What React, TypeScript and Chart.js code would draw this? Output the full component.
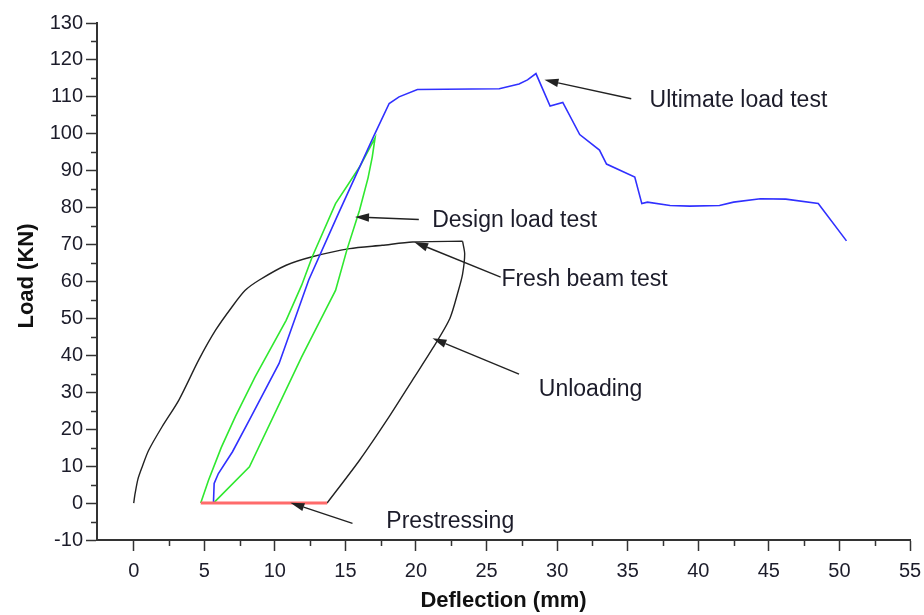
import React, { useEffect, useRef } from "react";
import { Chart, registerables } from "chart.js";

Chart.register(...registerables);

// Fresh beam test: first loading up to the peak plateau
const freshBeamDeflection = [0, 0.1, 0.3, 0.6, 1.06, 2.0, 3.2, 4.6, 5.8, 6.96, 7.9, 8.9, 10.8, 12.65, 15.3, 17.6, 19.75, 23.3];
const freshBeamLoad = [0, 2.6, 6.5, 9.8, 14.3, 20.6, 27.9, 38.7, 46.8, 53.1, 57.6, 60.4, 64.4, 66.7, 68.9, 69.8, 70.7, 70.9];

// Unloading of the fresh beam back to zero load
const unloadingDeflection = [23.3, 23.45, 23.3, 23.0, 22.4, 21.2, 19.75, 18.1, 16.0, 13.7];
const unloadingLoad = [70.9, 67.5, 62.0, 57.5, 50.0, 42.0, 33.3, 23.4, 11.6, 0];

// Prestressing at zero load
const prestressDeflection = [13.7, 4.75];
const prestressLoad = [0, 0];

// Design load test: loading and unloading loop
const designDeflection = [4.75, 5.3, 6.2, 7.2, 8.6, 10.8, 11.9, 12.65, 14.3, 16.0, 17.1, 16.9, 16.6, 16.0, 15.1, 14.3, 13.1, 11.9, 8.2, 5.65];
const designLoad = [0, 6.2, 15.0, 23.4, 34.2, 49.5, 59.0, 66.7, 81.1, 91.0, 98.9, 93.7, 88.0, 79.3, 68.5, 57.6, 48.6, 39.6, 9.8, 0];

// Ultimate load test up to failure
const ultimateDeflection = [5.65, 5.7, 6.0, 7.0, 8.2, 10.3, 12.4, 14.5, 17.0, 18.1, 18.8, 20.1, 25.9, 27.3, 27.9, 28.5, 29.5, 30.4, 31.6, 33.0, 33.5, 35.5, 36.0, 36.4, 38.0, 39.4, 41.5, 42.5, 44.4, 46.2, 48.5, 50.5];
const ultimateLoad = [0, 5.3, 8.0, 13.9, 22.5, 37.8, 60.4, 78.4, 99.3, 108.2, 110.0, 112.0, 112.2, 113.5, 114.6, 116.3, 107.5, 108.5, 99.8, 95.6, 91.8, 88.3, 81.1, 81.5, 80.6, 80.4, 80.6, 81.5, 82.4, 82.3, 81.1, 71.0];

// Axis ticks
const xMajorTicks = [0, 5, 10, 15, 20, 25, 30, 35, 40, 45, 50, 55];
const xMinorTicks = [2.5, 7.5, 12.5, 17.5, 22.5, 27.5, 32.5, 37.5, 42.5, 47.5, 52.5];
const yMajorTicks = [-10, 0, 10, 20, 30, 40, 50, 60, 70, 80, 90, 100, 110, 120, 130];
const yMinorTicks = [-5, 5, 15, 25, 35, 45, 55, 65, 75, 85, 95, 105, 115, 125];

// Callout labels, anchored in data units (deflection, load)
const calloutLabels = ["Ultimate load test", "Design load test", "Fresh beam test", "Unloading", "Prestressing"];
const calloutTipX = [29.1, 15.68, 19.87, 21.17, 11.1];
const calloutTipY = [114.6, 77.5, 70.7, 44.6, 0.1];
const calloutTailX = [35.25, 20.2, 26.0, 27.3, 15.5];
const calloutTailY = [109.5, 76.8, 61.2, 34.9, -5.5];
const calloutTextX = [36.55, 21.15, 26.05, 28.7, 17.9];
const calloutTextY = [109.0, 76.6, 60.4, 30.6, -5.1];

const xTitle = "Deflection (mm)";
const yTitle = "Load (KN)";

const FONT = "'Liberation Sans', Arial, Helvetica, sans-serif";
const AXIS_COLOR = "#333333";
const TEXT_COLOR = "#1c1c2a";

const pts = (xs: number[], ys: number[]) => xs.map((x, i) => ({ x, y: ys[i] }));

const decorations = {
  id: "decorations",
  afterDraw(chart: any) {
    const { ctx, chartArea } = chart;
    const xs = chart.scales.x;
    const ys = chart.scales.y;
    ctx.save();

    // minor tick marks
    ctx.strokeStyle = AXIS_COLOR;
    ctx.lineWidth = 1.5;
    ctx.beginPath();
    xMinorTicks.forEach((v) => {
      const px = Math.round(xs.getPixelForValue(v)) + 0.5;
      ctx.moveTo(px, chartArea.bottom);
      ctx.lineTo(px, chartArea.bottom + 6);
    });
    yMinorTicks.forEach((v) => {
      const py = Math.round(ys.getPixelForValue(v)) + 0.5;
      ctx.moveTo(chartArea.left - 6, py);
      ctx.lineTo(chartArea.left, py);
    });
    ctx.stroke();

    // callout arrows and labels
    ctx.fillStyle = "#222222";
    ctx.strokeStyle = "#222222";
    ctx.lineWidth = 1.4;
    calloutLabels.forEach((label, i) => {
      const tx = xs.getPixelForValue(calloutTipX[i]);
      const ty = ys.getPixelForValue(calloutTipY[i]);
      const sx = xs.getPixelForValue(calloutTailX[i]);
      const sy = ys.getPixelForValue(calloutTailY[i]);
      const ang = Math.atan2(ty - sy, tx - sx);
      const headLen = 14;
      const headHalf = 4.2;
      const bx = tx - headLen * Math.cos(ang);
      const by = ty - headLen * Math.sin(ang);
      ctx.beginPath();
      ctx.moveTo(sx, sy);
      ctx.lineTo(bx, by);
      ctx.stroke();
      ctx.beginPath();
      ctx.moveTo(tx, ty);
      ctx.lineTo(bx + headHalf * Math.sin(ang), by - headHalf * Math.cos(ang));
      ctx.lineTo(bx - headHalf * Math.sin(ang), by + headHalf * Math.cos(ang));
      ctx.closePath();
      ctx.fill();

      ctx.save();
      ctx.fillStyle = TEXT_COLOR;
      ctx.font = `23px ${FONT}`;
      ctx.textAlign = "left";
      ctx.textBaseline = "middle";
      ctx.fillText(label, xs.getPixelForValue(calloutTextX[i]), ys.getPixelForValue(calloutTextY[i]));
      ctx.restore();
    });

    // axis titles
    ctx.fillStyle = "#111111";
    ctx.font = `bold 22px ${FONT}`;
    ctx.textAlign = "center";
    ctx.textBaseline = "middle";
    ctx.fillText(xTitle, (chartArea.left + chartArea.right) / 2, 601);
    ctx.translate(27, 276);
    ctx.rotate(-Math.PI / 2);
    ctx.fillText(yTitle, 0, 0);
    ctx.restore();
  },
};

export default function App() {
  const canvasRef = useRef<HTMLCanvasElement | null>(null);

  useEffect(() => {
    if (!canvasRef.current) return;
    const line = (data: { x: number; y: number }[], color: string, width: number, tension = 0) => ({
      data,
      showLine: true,
      borderColor: color,
      backgroundColor: color,
      borderWidth: width,
      pointRadius: 0,
      tension,
      fill: false,
    });

    const chart = new Chart(canvasRef.current, {
      type: "scatter",
      data: {
        datasets: [
          { label: "Prestressing", ...line(pts(prestressDeflection, prestressLoad), "#ff6b6b", 3) },
          { label: "Ultimate load test", ...line(pts(ultimateDeflection, ultimateLoad), "#3030ff", 1.6) },
          { label: "Design load test", ...line(pts(designDeflection, designLoad), "#2fe82f", 1.6) },
          { label: "Fresh beam test", ...line(pts(freshBeamDeflection, freshBeamLoad), "#222222", 1.4, 0.25) },
          { label: "Unloading", ...line(pts(unloadingDeflection, unloadingLoad), "#222222", 1.4, 0.25) },
        ],
      } as any,
      options: {
        animation: false,
        responsive: false,
        maintainAspectRatio: false,
        layout: { padding: { top: 23, right: 14, left: 0, bottom: 0 } },
        plugins: { legend: { display: false }, tooltip: { enabled: false } },
        scales: {
          x: {
            type: "linear",
            min: -2.6,
            max: 55,
            afterBuildTicks: (s: any) => {
              s.ticks = xMajorTicks.map((v) => ({ value: v }));
            },
            afterFit: (s: any) => {
              s.height = 75;
              s.paddingRight = 0;
              s.paddingLeft = 0;
            },
            grid: { drawOnChartArea: false, drawTicks: true, tickLength: 11, tickColor: AXIS_COLOR, tickWidth: 1.5 },
            border: { display: true, color: AXIS_COLOR, width: 2 },
            ticks: { font: { family: FONT, size: 20 }, color: TEXT_COLOR, padding: 8, maxRotation: 0, autoSkip: false },
          },
          y: {
            type: "linear",
            min: -10,
            max: 130,
            afterBuildTicks: (s: any) => {
              s.ticks = yMajorTicks.map((v) => ({ value: v }));
            },
            afterFit: (s: any) => {
              s.width = 97;
              s.paddingTop = 0;
              s.paddingBottom = 0;
            },
            grid: { drawOnChartArea: false, drawTicks: true, tickLength: 11, tickColor: AXIS_COLOR, tickWidth: 1.5 },
            border: { display: true, color: AXIS_COLOR, width: 2 },
            ticks: { font: { family: FONT, size: 20 }, color: TEXT_COLOR, padding: 3, autoSkip: false },
          },
        },
      } as any,
      plugins: [decorations],
    });
    return () => chart.destroy();
  }, []);

  return (
    <div style={{ position: "fixed", left: 0, top: 0, width: 924, height: 615, background: "#ffffff" }}>
      <canvas ref={canvasRef} width={924} height={615} style={{ width: 924, height: 615 }} />
    </div>
  );
}
